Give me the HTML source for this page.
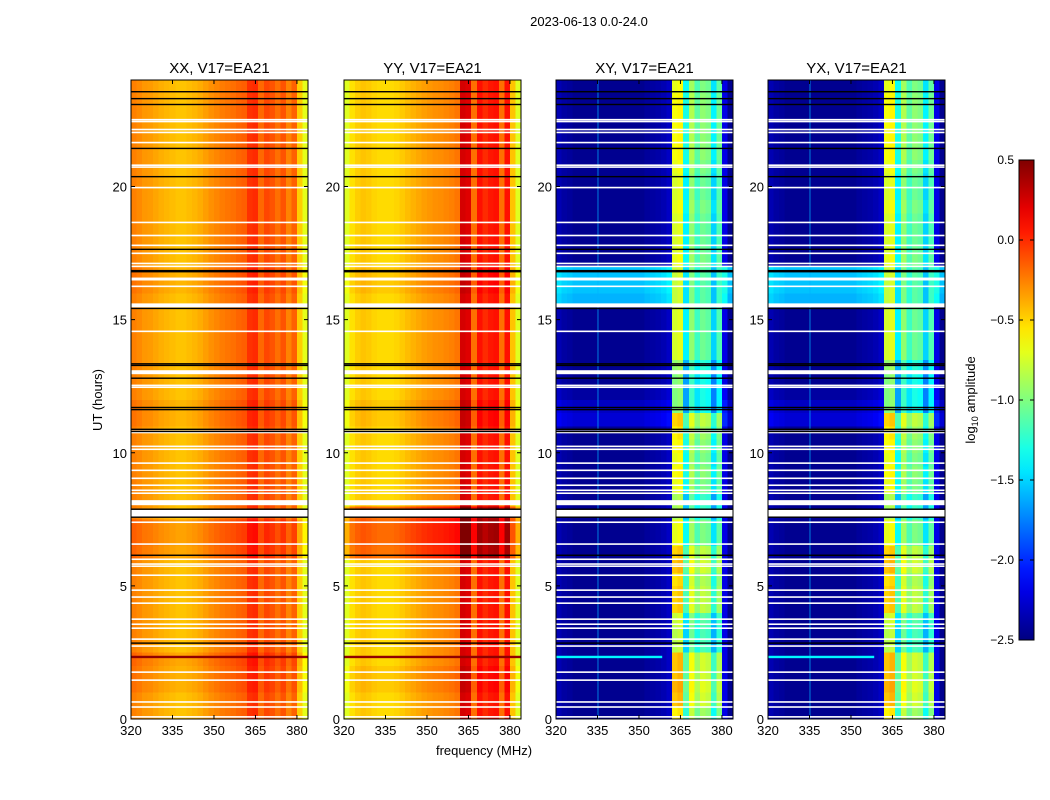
<!DOCTYPE html>
<html><head><meta charset="utf-8">
<style>
body{margin:0;background:#fff;}
svg{display:block;font-family:"Liberation Sans",sans-serif;}
</style></head>
<body>
<svg id="chart" width="1050" height="800" viewBox="0 0 1050 800">
<rect width="1050" height="800" fill="#fff"/>
<text x="589" y="26" font-size="13" text-anchor="middle">2023-06-13 0.0-24.0</text>
<text x="484" y="755" font-size="13" text-anchor="middle">frequency (MHz)</text>
<text transform="translate(102,400) rotate(-90)" font-size="13" text-anchor="middle">UT (hours)</text>
<text transform="translate(975,400) rotate(-90)" font-size="13" text-anchor="middle">log<tspan font-size="9" dy="3">10</tspan><tspan dy="-3"> amplitude</tspan></text>
<g id="panels"></g>
<g id="cbar"></g>
</svg>
<script>
// ---- data ----
const panelNames = ["XX, V17=EA21","YY, V17=EA21","XY, V17=EA21","YX, V17=EA21"];
const freqStarts = [320,322,324,326,328,330,332,334,336,338,340,342,344,346,348,350,352,354,356,358,360,362,364,366,368,370,372,374,376,378,380,382];
const xxProfile = [-0.25,-0.28,-0.32,-0.33,-0.36,-0.39,-0.41,-0.43,-0.45,-0.45,-0.43,-0.41,-0.38,-0.34,-0.3,-0.27,-0.24,-0.22,-0.2,-0.17,-0.15,-0.02,0.0,-0.18,-0.08,-0.12,-0.2,-0.12,-0.26,-0.16,-0.48,-0.7];
const yyProfile = [-0.72,-0.54,-0.48,-0.45,-0.47,-0.5,-0.52,-0.52,-0.52,-0.5,-0.47,-0.43,-0.4,-0.37,-0.34,-0.32,-0.3,-0.29,-0.27,-0.25,-0.22,0.25,0.22,-0.2,0.08,0.0,0.06,0.08,-0.2,0.08,-0.45,-0.72];
const xyProfile = [-2.35,-2.4,-2.42,-2.45,-2.45,-2.45,-2.45,-2.45,-2.45,-2.45,-2.45,-2.45,-2.45,-2.45,-2.45,-2.45,-2.42,-2.4,-2.38,-2.35,-2.3,-0.75,-0.7,-1.4,-0.95,-1.2,-1.05,-1.1,-1.5,-1.15,-2.2,-2.45];
const yxProfile = [-2.35,-2.4,-2.42,-2.45,-2.45,-2.45,-2.45,-2.45,-2.45,-2.45,-2.45,-2.45,-2.45,-2.45,-2.45,-2.45,-2.42,-2.4,-2.38,-2.35,-2.3,-0.75,-0.7,-1.4,-0.95,-1.2,-1.05,-1.1,-1.5,-1.15,-2.2,-2.45];
// half-hour row offsets (48 rows, 0..24 h)
const xxRowOffset = [0,0,0.05,0.05,0.08,0,0,0,0,0,0,0,0.08,0.1,0.1,0,0,0,0,0,0,0,0.04,0.04,0,0,0,0,0,0,0,0,0.04,0.04,0,0,0,0,0,0,0,0,0,0,0,0,0,0];
const yyRowOffset = [0,0,0.05,0.05,0,0,0,0,0,0,0,0,0.3,0.33,0.33,0.3,0,0,0,0,0,0,0.05,0.05,0,0,0,0,0,0,0,0,0.05,0.05,0,0,0,0,0,0,0,0,0,0,0,0,0,0];
const crossBandOffset = [0.15,0.3,0.35,0.3,0.3,-0.1,-0.1,-0.05,0.25,0.25,0.2,0.3,0.25,0.05,0.05,-0.15,-0.15,0.05,0.1,0.05,0.1,0.15,0.25,-0.25,-0.25,-0.25,-0.2,0.0,0.0,0.0,0.0,-0.05,-0.05,-0.05,0.05,0.0,0.0,0.0,0.05,0.0,0.0,0.05,0.1,0.1,0.1,0.1,0.1,0.05];
const crossBgOffset = [0,0,0,0,0,0,0,0,0,0,0,0,0,0,0,0,0,0,0,0,0,0,0.2,0.15,0.05,0,0,0,0,0,0,0.85,0.9,0.9,0,0,0,0,0,0,0,0,0,0,0,0,0,0];
const whiteLines = [0.08,0.45,0.64,1.46,1.76,2.74,3.0,3.41,3.56,3.75,4.35,4.58,4.84,5.4,5.74,5.82,6.0,6.57,7.39,8.48,8.59,8.78,9.04,9.34,9.61,10.13,10.24,12.46,12.53,14.56,16.25,17.0,17.11,17.49,17.79,18.16,18.65,19.96,20.73,20.8,21.65,22.03,22.14,22.44,22.51];
const whiteBandStart = [7.6,8.03,10.73,12.95,15.46,16.47];
const whiteBandEnd = [7.86,8.22,10.84,13.1,15.61,16.58];
const blackLines = [2.85,6.15,7.58,7.88,10.8,10.88,11.62,11.7,12.8,13.28,13.34,15.42,16.8,16.84,17.64,20.37,21.43,23.08,23.3,23.56];
const ticksX = [320,335,350,365,380];
const ticksY = [0,5,10,15,20];
const cbarTicks = [0.5,0.0,-0.5,-1.0,-1.5,-2.0,-2.5];
const cbarLabels = ["0.5","0.0","\u22120.5","\u22121.0","\u22121.5","\u22122.0","\u22122.5"];
const rfiRowHour = [2.33];
const crossLineFreq = [335];

// ---- scales / colormap ----
const vmin=-2.5, vmax=0.5, fmin=320, fmax=384, hmin=0, hmax=24;
const PT=80, PB=719, PW=177;
const panelLeft=[131,344,556,768];
function X(p,f){return panelLeft[p]+(f-fmin)/(fmax-fmin)*PW;}
function Y(h){return PB-(h-hmin)/(hmax-hmin)*(PB-PT);}
function jet(v){
  let t=(v-vmin)/(vmax-vmin); t=Math.max(0,Math.min(1,t));
  const c=x=>Math.round(255*Math.max(0,Math.min(1,x)));
  const r=1.5-Math.abs(4*t-3), g=1.5-Math.abs(4*t-2), b=1.5-Math.abs(4*t-1);
  return `rgb(${c(r)},${c(g)},${c(b)})`;
}
const NS="http://www.w3.org/2000/svg";
function mk(tag,attrs,parent){const e=document.createElementNS(NS,tag);for(const k in attrs)e.setAttribute(k,attrs[k]);parent.appendChild(e);return e;}

const profiles=[xxProfile,yyProfile,xyProfile,yxProfile];
const root=document.getElementById('panels');
for(let p=0;p<4;p++){
  const g=mk('g',{},root);
  
  
  const cross=p>=2;
  const cells=mk('g',{'shape-rendering':'crispEdges'},g);
  
  
  const prof=profiles[p];
  for(let r=0;r<48;r++){
    const h0=r*0.5,h1=h0+0.5;
    for(let c=0;c<freqStarts.length;c++){
      const f0=freqStarts[c], f1=(c+1<freqStarts.length?freqStarts[c+1]:fmax);
      let v=prof[c];
      if(!cross) v+= (p===0?xxRowOffset:yyRowOffset)[r];
      else v+= (f0>=362&&f0<380)?crossBandOffset[r]:crossBgOffset[r];
      const x0=X(p,f0),x1=X(p,f1),y0=Y(h1),y1=Y(h0);
      const rc=mk('rect',{x:x0.toFixed(2),y:y0.toFixed(2),width:(x1-x0+0.3).toFixed(2),height:(y1-y0+0.3).toFixed(2),fill:jet(v)},cells);
      
      
    }
  }
  if(cross){
    crossLineFreq.forEach(f=>{
      const l=mk('rect',{x:X(p,f),y:PT,width:1,height:PB-PT,fill:jet(-1.6),opacity:0.7},g);
      
      
    });
  }
  rfiRowHour.forEach(h=>{
    const l=mk('rect',{x:X(p,fmin),y:Y(h)-1.2,width:cross?PW*0.6:PW,height:2.4,fill:cross?jet(-1.4):jet(0.45)},g);
    
    
  });
  whiteBandStart.forEach((s,i)=>{
    const b=mk('rect',{x:X(p,fmin),y:Y(whiteBandEnd[i]),width:PW,height:Y(s)-Y(whiteBandEnd[i]),fill:'#fff'},g);
    
    
  });
  whiteLines.forEach(h=>{
    const l=mk('rect',{x:X(p,fmin),y:Y(h)-0.8,width:PW,height:1.6,fill:'#fff'},g);
    
    
  });
  blackLines.forEach(h=>{
    const l=mk('rect',{x:X(p,fmin),y:Y(h)-0.7,width:PW,height:1.4,fill:'#000'},g);
    
    
  });
  const fr=mk('rect',{x:panelLeft[p],y:PT,width:PW,height:PB-PT,fill:'none',stroke:'#000','stroke-width':1},g);
  
  
  const t=mk('text',{x:panelLeft[p]+PW/2,y:PT-7,'font-size':15,'text-anchor':'middle'},g);
  t.textContent=panelNames[p];
  
  
  ticksX.forEach(f=>{
    const x=X(p,f);
    mk('line',{x1:x,x2:x,y1:PB,y2:PB-4,stroke:'#000'},g);
    mk('line',{x1:x,x2:x,y1:PT,y2:PT+4,stroke:'#000'},g);
    const tl=mk('text',{x:x,y:PB+16,'font-size':13,'text-anchor':'middle'},g);
    tl.textContent=f;
    
    
  });
  ticksY.forEach(h=>{
    const y=Y(h);
    mk('line',{x1:panelLeft[p],x2:panelLeft[p]+4,y1:y,y2:y,stroke:'#000'},g);
    mk('line',{x1:panelLeft[p]+PW,x2:panelLeft[p]+PW-4,y1:y,y2:y,stroke:'#000'},g);
    const tl=mk('text',{x:panelLeft[p]-4,y:y+5,'font-size':13,'text-anchor':'end'},g);
    tl.textContent=h;
    
    
  });
}
// colorbar
const cb=document.getElementById('cbar');
const CX=1019,CW=15,CT=160,CB=640;
const defs=mk('defs',{},cb);
const grad=mk('linearGradient',{id:'jetg',x1:0,y1:1,x2:0,y2:0},defs);
for(let i=0;i<=20;i++){const v=vmin+(vmax-vmin)*i/20;mk('stop',{offset:(i/20),'stop-color':jet(v)},grad);}
const cbr=mk('rect',{x:CX,y:CT,width:CW,height:CB-CT,fill:'url(#jetg)',stroke:'#000','stroke-width':1},cb);


function CY(v){return CB-(v-vmin)/(vmax-vmin)*(CB-CT);}
cbarTicks.forEach((v,i)=>{
  const y=CY(v);
  mk('line',{x1:CX,x2:CX+4,y1:y,y2:y,stroke:'#000'},cb);
  mk('line',{x1:CX+CW,x2:CX+CW-4,y1:y,y2:y,stroke:'#000'},cb);
  const tl=mk('text',{x:CX-5,y:y+4,'font-size':12,'text-anchor':'end'},cb);
  tl.textContent=cbarLabels[i];
  
  
});
</script>
</body></html>
